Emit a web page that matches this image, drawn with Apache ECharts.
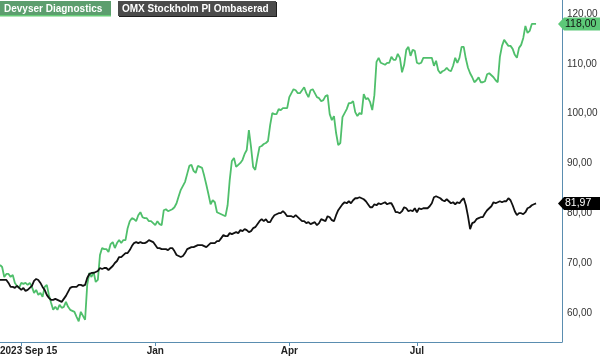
<!DOCTYPE html>
<html><head><meta charset="utf-8">
<script src="https://cdn.jsdelivr.net/npm/echarts@6/dist/echarts.min.js"></script>
<style>html,body{margin:0;padding:0;background:#fff}#c{width:600px;height:358px}</style>
</head><body><div id="c"></div>
<script>
const seriesNames = ['Devyser Diagnostics', 'OMX Stockholm PI Ombaserad'];
const devyser = [
69.6,69.2,67.2,67.8,67.8,67.2,67.6,66.0,65.4,65.0,
66.0,65.8,66.0,65.6,66.0,65.2,64.0,64.6,63.6,64.0,
63.2,65.2,65.6,63.6,62.0,60.6,61.2,60.6,61.6,61.0,
61.2,62.2,61.2,60.6,60.4,60.2,59.2,58.3,60.2,59.4,
58.6,65.6,68.0,67.2,68.2,66.2,66.6,71.6,73.0,72.8,
72.8,72.2,73.8,74.2,73.0,74.0,74.6,74.0,74.6,74.6,
77.0,78.4,79.0,78.8,78.4,79.6,80.2,79.2,79.0,79.0,
78.4,78.4,78.0,77.6,78.4,77.8,77.6,80.6,80.8,80.4,
80.6,80.8,81.2,82.0,83.4,84.7,85.5,86.3,87.9,89.5,
89.7,88.5,88.1,89.5,89.3,89.1,87.5,85.7,83.8,81.8,
82.6,82.2,80.2,80.0,79.8,79.6,79.4,81.6,86.7,90.5,
91.1,89.3,89.7,90.1,90.7,91.9,92.7,96.7,93.3,89.3,
88.7,91.1,93.3,93.5,93.9,94.1,94.5,97.7,100.1,99.9,
99.9,100.9,100.7,101.1,101.1,101.1,103.3,104.1,104.9,104.7,
104.1,104.1,104.7,105.3,104.1,103.3,104.7,104.9,104.1,103.3,
103.1,102.5,102.7,103.5,103.7,99.9,98.7,99.5,96.1,93.7,
94.1,99.3,100.1,100.9,102.1,102.1,102.5,100.3,99.5,100.1,
99.9,103.9,102.9,103.1,102.3,100.7,103.7,110.4,111.2,110.2,
110.0,109.8,110.2,110.2,111.4,110.8,110.8,112.0,111.2,108.3,
109.8,112.8,113.4,111.6,112.8,112.6,110.2,110.0,110.2,111.2,
111.2,111.2,111.2,111.2,109.6,110.6,108.7,108.1,108.5,108.7,
109.2,108.7,108.5,109.6,111.2,110.2,111.2,113.4,113.4,111.0,
109.2,108.1,107.3,106.3,106.7,107.3,106.3,106.3,106.5,107.9,
108.1,107.7,107.3,106.7,106.3,111.4,113.6,114.8,114.2,113.6,
113.6,113.0,111.8,111.2,113.2,113.8,115.2,117.6,116.2,116.6,
118.0,118.0,118.0
];
const omx = [
66.6,66.6,66.6,66.6,66.0,65.2,65.2,65.0,65.4,65.0,
64.6,65.0,64.4,64.6,65.0,65.4,66.4,66.8,66.6,66.0,
65.2,64.6,63.6,63.0,62.6,62.6,62.8,62.6,62.4,62.2,
62.8,63.4,64.2,65.0,65.2,65.2,65.2,65.6,65.6,65.4,
65.6,67.0,67.8,68.0,68.0,68.2,68.4,69.0,68.8,69.0,
69.0,68.6,69.0,69.4,70.0,70.4,71.2,71.2,71.6,72.0,
72.0,72.6,73.4,74.0,74.2,74.0,74.2,74.0,74.0,74.2,
74.6,74.4,74.2,73.6,73.0,73.0,72.8,72.8,72.8,72.6,
73.0,73.0,72.4,71.6,71.4,71.2,71.4,72.0,72.8,73.0,
73.2,73.2,73.4,73.6,73.6,73.6,73.4,73.2,73.6,74.0,
74.0,74.0,74.4,74.4,75.0,75.6,75.4,75.4,76.0,75.8,
76.0,76.2,76.0,76.6,76.4,76.8,76.6,76.2,76.4,77.0,
77.2,77.8,78.4,78.8,78.4,78.8,78.2,78.2,79.0,79.6,
79.8,80.0,80.0,80.4,80.0,79.4,79.4,79.4,79.2,79.6,
79.2,78.8,78.4,78.4,78.0,78.2,77.8,78.0,78.2,77.6,
78.0,78.8,78.6,78.4,79.4,79.2,78.6,78.4,79.6,80.6,
81.2,81.8,82.2,82.0,82.4,82.0,82.6,83.0,83.0,83.2,
83.0,82.8,82.4,81.8,81.2,81.2,81.8,81.6,82.0,81.8,
82.0,82.2,81.8,82.0,82.0,81.2,80.2,80.2,80.0,80.4,
81.2,81.0,80.4,80.6,80.4,81.0,80.2,81.0,80.8,81.0,
81.0,81.0,81.4,82.0,83.2,83.4,83.2,83.0,82.6,82.4,
82.8,82.4,82.0,82.2,81.8,82.2,82.0,82.6,83.0,81.6,
79.4,76.8,78.0,78.2,78.8,79.0,79.2,79.2,80.0,80.6,
81.0,81.4,82.2,82.0,82.2,82.4,82.2,82.4,82.4,83.0,
82.6,81.6,80.4,79.6,80.0,80.0,79.8,80.2,81.0,81.2,
81.6,81.8,81.97
];
// trading-day index of month ticks and labels
const xTickIdx = [10, 73, 136, 196];
const xLabelIdx = [0, 73, 136, 196];
const xLabelText = ['2023 Sep 15', 'Jan', 'Apr', 'Jul'];
const yTickValues = [60, 70, 80, 90, 100, 110, 120];

const GREEN = '#4fbf6b';
const BLACK = '#111111';
const AXIS = '#5a8db0';
const fmt = v => v.toFixed(2).replace('.', ',');

const chart = echarts.init(document.getElementById('c'), null, {renderer: 'canvas'});
const option = {
  animation: false,
  backgroundColor: '#fff',
  textStyle: {fontFamily: 'Liberation Sans, Arial, sans-serif'},
  grid: {left: 0, right: 38, top: 0, bottom: 16, containLabel: false, outerBoundsMode: 'none'},
  xAxis: {
    type: 'value', min: 0, max: 264.2,
    axisLine: {show: true, onZero: false, lineStyle: {color: AXIS, width: 1}},
    axisTick: {show: true, customValues: xTickIdx, length: 4, lineStyle: {color: AXIS}},
    axisLabel: {
      customValues: xLabelIdx, margin: 4, fontSize: 10, color: '#222', fontWeight: 'bold',
      alignMinLabel: 'left',
      formatter: v => xLabelText[xLabelIdx.indexOf(Math.round(v))] || ''
    },
    splitLine: {show: false}
  },
  yAxis: {
    type: 'value', position: 'right', min: 54.14, max: 122.81,
    axisLine: {show: true, onZero: false, lineStyle: {color: AXIS, width: 1}},
    axisTick: {show: false},
    axisLabel: {customValues: yTickValues, margin: 5, fontSize: 10, color: '#333', formatter: fmt},
    splitLine: {show: false}
  },
  series: [
    {name: seriesNames[0], type: 'line', data: devyser.map((v, i) => [i, v]), showSymbol: false,
     lineStyle: {color: GREEN, width: 1.8}, itemStyle: {color: GREEN}, z: 2},
    {name: seriesNames[1], type: 'line', data: omx.map((v, i) => [i, v]), showSymbol: false,
     lineStyle: {color: BLACK, width: 1.8}, itemStyle: {color: BLACK}, z: 3}
  ]
};
chart.setOption(option);

function tag(value, fill, textColor) {
  const y = chart.convertToPixel({yAxisIndex: 0}, value);
  const x0 = 558;
  return [
    {type: 'polygon', z: 100, shape: {points: [[x0, y], [x0 + 6, y - 6.5], [600, y - 6.5], [600, y + 6.5], [x0 + 6, y + 6.5]]},
     style: {fill: fill}},
    {type: 'text', z: 101, x: 565, y: y, style: {text: fmt(value), fill: textColor, fontSize: 10.5,
     fontFamily: 'Liberation Sans, Arial, sans-serif', verticalAlign: 'middle', align: 'left'}}
  ];
}
const gLast = devyser[devyser.length - 1];
const bLast = omx[omx.length - 1];
chart.setOption({
  graphic: [
    {type: 'rect', z: 100, shape: {x: 0, y: 1, width: 111, height: 15}, style: {fill: '#5c9e6e'}},
    {type: 'rect', z: 100, shape: {x: 0, y: 15, width: 111, height: 1.5}, style: {fill: '#66cc77'}},
    {type: 'text', z: 101, x: 4, y: 9, style: {text: seriesNames[0], fill: '#fff', fontSize: 10, fontWeight: 'bold',
      fontFamily: 'Liberation Sans, Arial, sans-serif', verticalAlign: 'middle'}},
    {type: 'rect', z: 100, shape: {x: 119, y: 2, width: 158, height: 15}, style: {fill: '#1e1e1e'}},
    {type: 'rect', z: 100, shape: {x: 118, y: 1, width: 158, height: 15}, style: {fill: '#4b4b4b'}},
    {type: 'text', z: 101, x: 122, y: 9, style: {text: seriesNames[1], fill: '#fff', fontSize: 10, fontWeight: 'bold',
      fontFamily: 'Liberation Sans, Arial, sans-serif', verticalAlign: 'middle'}},
    ...tag(gLast, '#5dc878', '#111'),
    ...tag(bLast, '#000', '#fff')
  ]
});
</script></body></html>
